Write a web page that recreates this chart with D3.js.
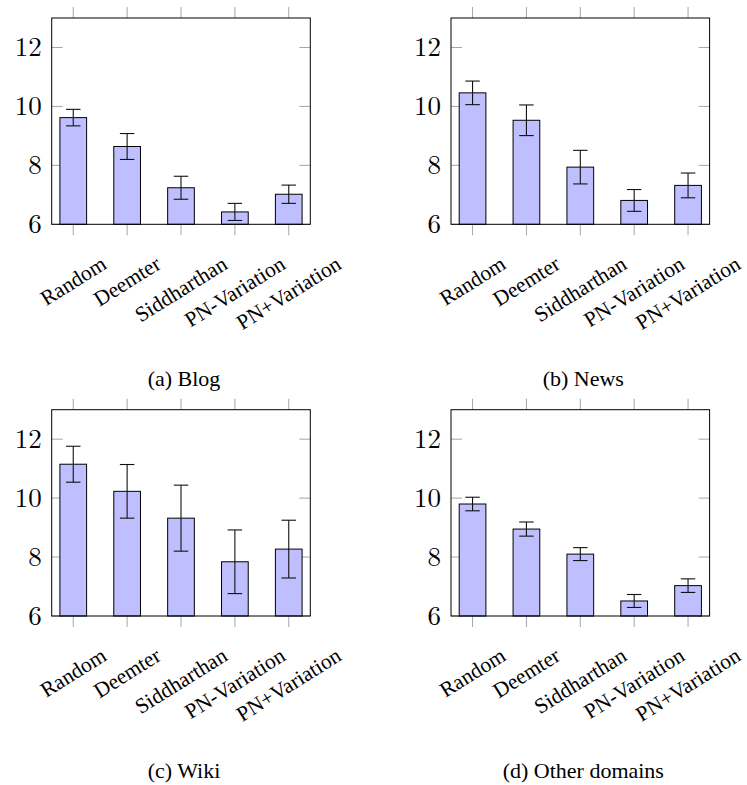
<!DOCTYPE html>
<html>
<head>
<meta charset="utf-8">
<script src="https://cdn.jsdelivr.net/npm/d3@7"></script>
</head>
<body style="margin:0;padding:0;background:#fff;">
<svg id="chart" width="747" height="785" style="font-family:'Liberation Serif';"></svg>
<script>
const categories = ["Random", "Deemter", "Siddharthan", "PN-Variation", "PN+Variation"];
const blogMeans = [9.62, 8.64, 7.24, 6.42, 7.02];
const blogErrors = [0.28, 0.44, 0.39, 0.29, 0.31];
const newsMeans = [10.46, 9.53, 7.94, 6.81, 7.32];
const newsErrors = [0.40, 0.52, 0.57, 0.37, 0.42];
const wikiMeans = [11.15, 10.23, 9.32, 7.84, 8.27];
const wikiErrors = [0.61, 0.91, 1.12, 1.08, 0.98];
const otherMeans = [9.80, 8.95, 8.10, 6.51, 7.03];
const otherErrors = [0.23, 0.24, 0.22, 0.22, 0.23];
const yDomain = [6, 13];
const yTicks = [6, 8, 10, 12];
const captions = ["(a) Blog", "(b) News", "(c) Wiki", "(d) Other domains"];

const panels = [
  { means: blogMeans, errors: blogErrors, caption: captions[0], left: 51.7, top: 18 },
  { means: newsMeans, errors: newsErrors, caption: captions[1], left: 451, top: 18 },
  { means: wikiMeans, errors: wikiErrors, caption: captions[2], left: 51.7, top: 409.7 },
  { means: otherMeans, errors: otherErrors, caption: captions[3], left: 451, top: 409.7 }
];

const W = 258.6, H = 206.3;
const tickLen = 11;
const tickColor = "#a6a6a6";
const barFill = "#bfbfff";
const textFont = "Liberation Serif";
const numFont = "Latin Modern Roman";
const labelSize = 21.5;
const angle = 32;

const svg = d3.select("#chart");

panels.forEach(p => {
  const g = svg.append("g").attr("transform", `translate(${p.left},${p.top})`);
  const x = d3.scalePoint().domain(categories).range([0, W]).padding(0.4);
  const y = d3.scaleLinear().domain(yDomain).range([H, 0]);
  const barW = 26.7;
  const capW = 14.5;

  const tg = g.append("g").attr("stroke", tickColor).attr("stroke-width", 1);
  categories.forEach(c => {
    tg.append("line").attr("x1", x(c)).attr("x2", x(c)).attr("y1", 0).attr("y2", -tickLen);
    tg.append("line").attr("x1", x(c)).attr("x2", x(c)).attr("y1", H).attr("y2", H + tickLen);
  });
  yTicks.forEach(t => {
    tg.append("line").attr("x1", 0).attr("x2", tickLen).attr("y1", y(t)).attr("y2", y(t));
    tg.append("line").attr("x1", W).attr("x2", W - tickLen).attr("y1", y(t)).attr("y2", y(t));
  });

  const data = categories.map((c, i) => ({ c, v: p.means[i], e: p.errors[i] }));
  g.append("g").selectAll("rect").data(data).join("rect")
    .attr("x", d => x(d.c) - barW / 2)
    .attr("y", d => y(d.v))
    .attr("width", barW)
    .attr("height", d => y(yDomain[0]) - y(d.v))
    .attr("fill", barFill)
    .attr("stroke", "#000")
    .attr("stroke-width", 1);

  const eg = g.append("g").attr("stroke", "#111").attr("stroke-width", 1.1).attr("fill", "none");
  data.forEach(d => {
    const cx = x(d.c);
    eg.append("line").attr("x1", cx).attr("x2", cx).attr("y1", y(d.v + d.e)).attr("y2", y(d.v - d.e));
    eg.append("line").attr("x1", cx - capW / 2).attr("x2", cx + capW / 2).attr("y1", y(d.v + d.e)).attr("y2", y(d.v + d.e));
    eg.append("line").attr("x1", cx - capW / 2).attr("x2", cx + capW / 2).attr("y1", y(d.v - d.e)).attr("y2", y(d.v - d.e));
  });

  g.append("rect").attr("x", 0).attr("y", 0).attr("width", W).attr("height", H)
    .attr("fill", "none").attr("stroke", "#000").attr("stroke-width", 1);

  g.append("g").selectAll("text").data(yTicks).join("text")
    .attr("x", -10)
    .attr("y", d => y(d))
    .attr("dy", "0.33em")
    .attr("text-anchor", "end")
    .attr("font-family", numFont)
    .style("font-family", `"${numFont}"`)
    .style("font-size", "27px")
    .attr("fill", "#000")
    .text(d => d);

  const labelTop = H + 31;
  const rad = angle * Math.PI / 180;
  categories.forEach(c => {
    const t = g.append("text")
      .attr("text-anchor", "middle")
      .attr("dy", "0.33em")
      .attr("font-family", textFont)
      .style("font-family", `"${textFont}"`)
      .style("font-size", labelSize + "px")
      .attr("fill", "#000")
      .text(c);
    const L = t.node().getComputedTextLength();
    const h = labelSize * 0.7;
    const halfH = (L / 2) * Math.sin(rad) + (h / 2) * Math.cos(rad);
    t.attr("transform", `translate(${x(c)},${labelTop + halfH}) rotate(${-angle})`);
  });

  g.append("text")
    .attr("x", W / 2 + 3)
    .attr("y", 368)
    .attr("text-anchor", "middle")
    .attr("font-family", textFont)
    .style("font-family", `"${textFont}"`)
    .style("font-size", "22px")
    .attr("fill", "#000")
    .text(p.caption);
});
</script>
</body>
</html>
